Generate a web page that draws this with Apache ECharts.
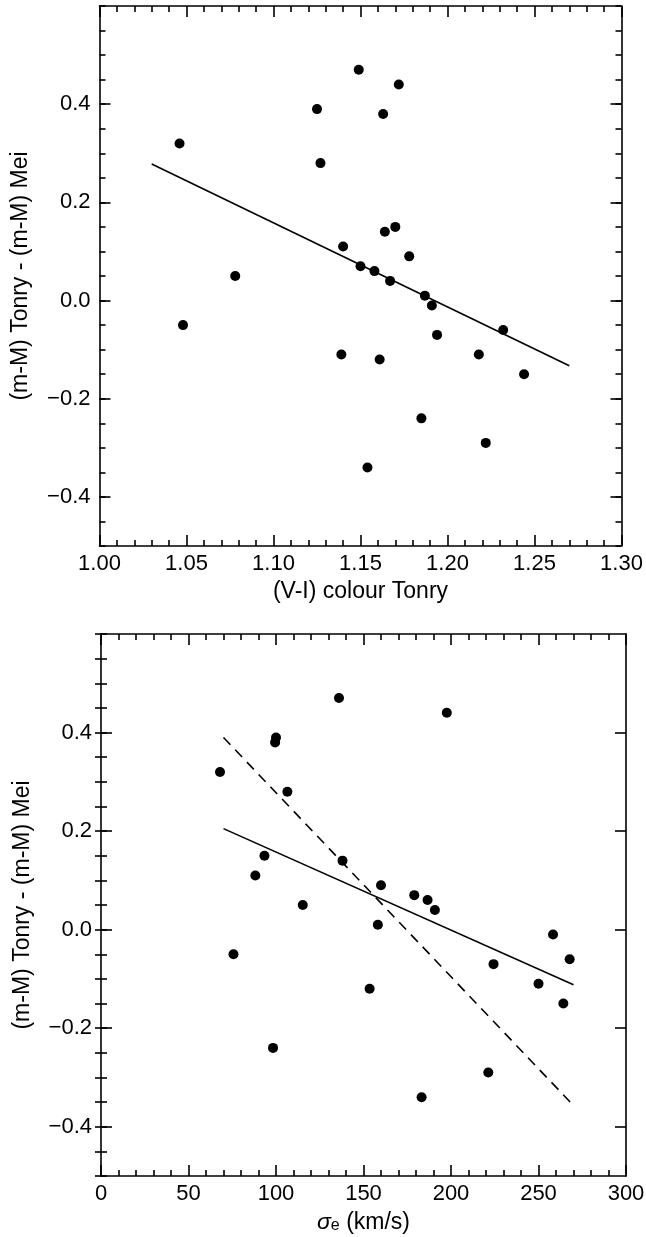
<!DOCTYPE html>
<html><head><meta charset="utf-8">
<script src="https://cdn.jsdelivr.net/npm/echarts@6/dist/echarts.min.js"></script>
<style>html,body{margin:0;padding:0;background:#fff}#c{width:646px;height:1237px}</style>
</head><body><div id="c"></div>
<script>
// ---- Data ----
const colourVI = [1.046,1.048,1.078,1.125,1.127,1.139,1.140,1.149,1.150,1.154,1.158,1.161,1.163,1.164,1.167,1.170,1.172,1.178,1.185,1.187,1.191,1.194,1.218,1.222,1.232,1.244];
const dmTop    = [0.32,-0.05,0.05,0.39,0.28,-0.11,0.11,0.47,0.07,-0.34,0.06,-0.12,0.38,0.14,0.04,0.15,0.44,0.09,-0.24,0.01,-0.01,-0.07,-0.11,-0.29,-0.06,-0.15];
const sigmaE   = [68,75.7,88.2,93.4,98.3,99.5,100,106.5,115.3,136,138,153.5,158.2,160,179,183.2,186.6,190.8,197.6,221.3,224.3,250,258.3,264.2,267.8];
const dmBottom = [0.32,-0.05,0.11,0.15,-0.24,0.38,0.39,0.28,0.05,0.47,0.14,-0.12,0.01,0.09,0.07,-0.34,0.06,0.04,0.44,-0.29,-0.07,-0.11,-0.01,-0.15,-0.06];
const fitColourX = [1.03, 1.27];
const fitColourY = [0.278, -0.133];
const fitSigmaX = [70, 270];
const fitSigmaY = [0.205, -0.112];
const fitSigmaDashX = [70, 270];
const fitSigmaDashY = [0.39, -0.357];
const xTickLabelsTop = [1.00,1.05,1.10,1.15,1.20,1.25,1.30];
const xTickLabelsBottom = [0,50,100,150,200,250,300];
const yTickLabels = [-0.4,-0.2,0.0,0.2,0.4];

const FONT = "'Liberation Sans', Arial, Helvetica, sans-serif";
const FS = 22;
const FT = 23;
function fmtMinus(s){ return s.replace('-', '\u2212'); }
function zip(a,b){ return a.map((v,i)=>[v,b[i]]); }

const lineBlack = {color:'#000', width:1.6};

function xAxes(gi, min, max, interval, minorSplit, labels, fmt, name, nameRich){
  const base = {gridIndex:gi, type:'value', min, max, interval,
    splitLine:{show:false},
    axisLine:{show:true, onZero:false, lineStyle:lineBlack},
    axisTick:{show:true, inside:true, length:11, lineStyle:lineBlack},
    minorTick:{show:true, splitNumber:minorSplit, length:6, lineStyle:lineBlack},
    minorSplitLine:{show:false}};
  return [
    Object.assign({}, base, {position:'bottom',
      axisLabel:{show:true, customValues:labels, formatter:fmt, margin:7,
        color:'#000', fontFamily:FONT, fontSize:FS},
      name, nameLocation:'middle', nameGap:34,
      nameTextStyle:Object.assign({color:'#000', fontFamily:FONT, fontSize:FT}, nameRich ? {rich:nameRich} : {})}),
    Object.assign({}, base, {position:'top', axisLabel:{show:false}})
  ];
}

function yAxes(gi, name){
  const common = {gridIndex:gi, type:'value', min:-0.5, max:0.6, interval:0.05, splitLine:{show:false}};
  const yFmt = v => fmtMinus(v.toFixed(1));
  return [
    Object.assign({}, common, {position:'left',
      axisLine:{show:true, onZero:false, lineStyle:lineBlack},
      axisTick:{show:true, inside:true, length:11, customValues:yTickLabels, lineStyle:lineBlack},
      axisLabel:{show:true, customValues:yTickLabels, formatter:yFmt, margin:9,
        color:'#000', fontFamily:FONT, fontSize:FS},
      name, nameLocation:'middle', nameGap:67,
      nameTextStyle:{color:'#000', fontFamily:FONT, fontSize:FT}}),
    Object.assign({}, common, {position:'left',
      axisLine:{show:false},
      axisTick:{show:true, inside:true, length:6, lineStyle:lineBlack},
      axisLabel:{show:false}}),
    Object.assign({}, common, {position:'right',
      axisLine:{show:true, onZero:false, lineStyle:lineBlack},
      axisTick:{show:true, inside:true, length:11, customValues:yTickLabels, lineStyle:lineBlack},
      axisLabel:{show:false}}),
    Object.assign({}, common, {position:'right',
      axisLine:{show:false},
      axisTick:{show:true, inside:true, length:6, lineStyle:lineBlack},
      axisLabel:{show:false}})
  ];
}

const yName = '(m-M) Tonry - (m-M) Mei';
const chart = echarts.init(document.getElementById('c'), null, {renderer:'canvas'});
const option = {
  animation:false,
  backgroundColor:'#fff',
  grid:[
    {left:99.5, top:6, width:522, height:540, outerBoundsMode:'none', containLabel:false},
    {left:101, top:634, width:525, height:542, outerBoundsMode:'none', containLabel:false}
  ],
  xAxis: [].concat(
    xAxes(0, 1.0, 1.3, 0.05, 5, xTickLabelsTop, v => v.toFixed(2), '(V-I) colour Tonry', null),
    xAxes(1, 0, 300, 50, 5, xTickLabelsBottom, v => String(Math.round(v)),
      '{s|\u03c3}{sub|e}{t| (km/s)}',
      {s:{fontFamily:FONT, fontSize:FT, fontStyle:'italic', color:'#000', verticalAlign:'bottom', lineHeight:24},
       sub:{fontFamily:FONT, fontSize:16, color:'#000', verticalAlign:'bottom', lineHeight:20},
       t:{fontFamily:FONT, fontSize:FT, color:'#000', verticalAlign:'bottom', lineHeight:24}})
  ),
  yAxis: [].concat(yAxes(0, yName), yAxes(1, yName)),
  series:[
    {type:'scatter', xAxisIndex:0, yAxisIndex:0, data:zip(colourVI, dmTop),
     symbol:'circle', symbolSize:10, itemStyle:{color:'#000', opacity:1}, silent:true},
    {type:'line', xAxisIndex:0, yAxisIndex:0, data:zip(fitColourX, fitColourY),
     symbol:'none', lineStyle:{color:'#000', width:1.6}, silent:true},
    {type:'scatter', xAxisIndex:2, yAxisIndex:4, data:zip(sigmaE, dmBottom),
     symbol:'circle', symbolSize:10, itemStyle:{color:'#000', opacity:1}, silent:true},
    {type:'line', xAxisIndex:2, yAxisIndex:4, data:zip(fitSigmaX, fitSigmaY),
     symbol:'none', lineStyle:{color:'#000', width:1.6}, silent:true},
    {type:'line', xAxisIndex:2, yAxisIndex:4, data:zip(fitSigmaDashX, fitSigmaDashY),
     symbol:'none', lineStyle:{color:'#000', width:1.6, type:[10,7]}, silent:true}
  ]
};
chart.setOption(option);
</script>
</body></html>
